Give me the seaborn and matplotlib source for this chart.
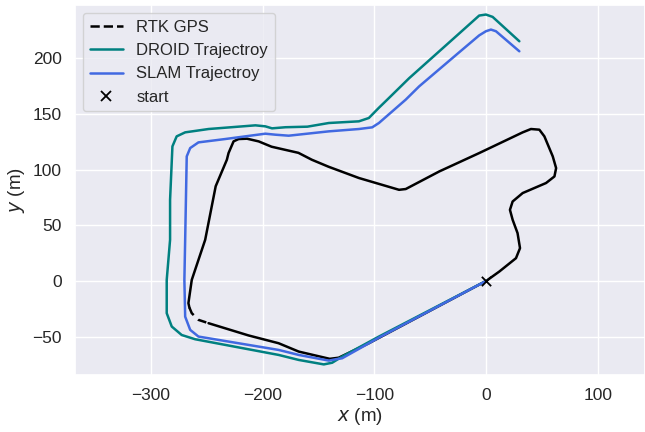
import numpy as np
import pandas as pd
import matplotlib
matplotlib.use("Agg")
import matplotlib.pyplot as plt
import seaborn as sns
from matplotlib.lines import Line2D

# RTK GPS ground-truth path (m)
rtk_x = [0, 11.7, 26.6, 30.2, 28, 23.6, 21.2, 23.6, 32.6, 53.5, 61, 62.5, 59.5, 52, 47.5, 40, 32.6,
         -6.3, -42, -72, -78, -113.9, -141, -156, -168, -192, -203.6, -214, -221.5, -226, -230.5,
         -232, -242, -251.4, -263.4, -266.4, -265.5]
rtk_y = [0, 8.4, 20.4, 29.4, 42.9, 54.9, 63.8, 71.3, 78.9, 87.9, 93.8, 101.3, 111.8, 129.8, 135.8,
         136.4, 133.4, 114.8, 98.3, 82.5, 81.8, 92.4, 102.5, 108.8, 115, 120.5, 125.3, 127.7,
         127.4, 125.3, 114.8, 108.8, 85, 36.9, 0.9, -20, -24]
rtk_dash_x = [-265.5, -263.4, -257.4, -248.4]
rtk_dash_y = [-24, -29, -35, -38]
rtk_tail_x = [-248.4, -212.6, -185.7, -167.7, -140, -132, -105, 0]
rtk_tail_y = [-38, -49, -56, -63.5, -70, -69, -56, 0]

# DROID trajectory (m)
droid_x = [0, -96, -128.9, -137.8, -145.3, -167.7, -185.7, -260.4, -272.4, -281.3, -285.8, -285.8,
           -282.8, -282.8, -280.7, -276.9, -269.3, -248.4, -206.5, -197.6, -191.6, -179.6, -160,
           -140.8, -113.9, -105, -96, -88.5, -69, -24.2, -6.3, -0.3, 5.7, 29.6]
droid_y = [0, -50, -68, -73.5, -75, -71, -66.5, -52.4, -48.6, -41, -29, 0.9,
           36.9, 72.8, 120.8, 129.8, 133.4, 136.4, 139.7, 138.8, 137, 138, 138.5,
           141.8, 143.3, 146.3, 155.5, 162.8, 182, 222.2, 238.3, 239.2, 237.1, 215.2]

# SLAM trajectory (m)
slam_x = [0, -96, -128.9, -134.8, -140.8, -167.7, -185.7, -212.6, -257.4, -264.8, -269.3, -270,
          -269.3, -267.9, -264.8, -257.4, -233.5, -197.6, -188.6, -176.7, -140.8, -113.9, -102,
          -96, -72, -60, -24.2, -6.3, -0.3, 4.2, 8.7, 29.6]
slam_y = [0, -51, -69.5, -70.4, -71.6, -66.5, -62, -57.5, -50, -44, -32.1, 0.9,
          36.9, 111.8, 119.3, 124.4, 127.4, 132.2, 131.3, 130.4, 134.3, 136.4, 137.9,
          141.8, 162.8, 174.7, 205.3, 220.5, 224.2, 225.7, 224.2, 206.2]

start_x = [0]
start_y = [0]

sns.set_theme(style="darkgrid")
plt.rcParams['font.family'] = ['Liberation Sans', 'DejaVu Sans']

fig = plt.figure(figsize=(6.45, 4.32), dpi=100)
ax = fig.add_axes([0.116, 0.132, 0.884, 0.857])

lw = 1.8
def draw(x, y, **kw):
    df = pd.DataFrame({"x": x, "y": y})
    sns.lineplot(data=df, x="x", y="y", sort=False, estimator=None, ax=ax, lw=lw, **kw)

draw(rtk_x, rtk_y, color="black")
draw(rtk_dash_x, rtk_dash_y, color="black", linestyle=(0, (3.5, 2.5)))
draw(rtk_tail_x, rtk_tail_y, color="black")
draw(droid_x, droid_y, color="teal")
draw(slam_x, slam_y, color="royalblue")
ax.scatter(start_x, start_y, marker="x", color="black", s=45, linewidths=1.3, zorder=5)

handles = [
    Line2D([], [], color="black", lw=lw, linestyle="--"),
    Line2D([], [], color="teal", lw=lw),
    Line2D([], [], color="royalblue", lw=lw),
    Line2D([], [], color="black", marker="x", linestyle="none", markersize=7, markeredgewidth=1.3),
]
labels = ["RTK GPS", "DROID Trajectroy", "SLAM Trajectroy", "start"]
ax.legend(handles, labels, loc="upper left", fontsize=12, frameon=True,
          labelspacing=0.5, borderaxespad=0.5)

ax.set_xlim(-368, 142)
ax.set_ylim(-84.5, 248)
ax.set_xticks([-300, -200, -100, 0, 100])
ax.set_yticks([-50, 0, 50, 100, 150, 200])
ax.tick_params(labelsize=12.5)
ax.set_xlabel("$x$ (m)", fontsize=13.5, labelpad=2)
ax.set_ylabel("$y$ (m)", fontsize=13.5, labelpad=4)

fig.savefig("out.png", dpi=100)
